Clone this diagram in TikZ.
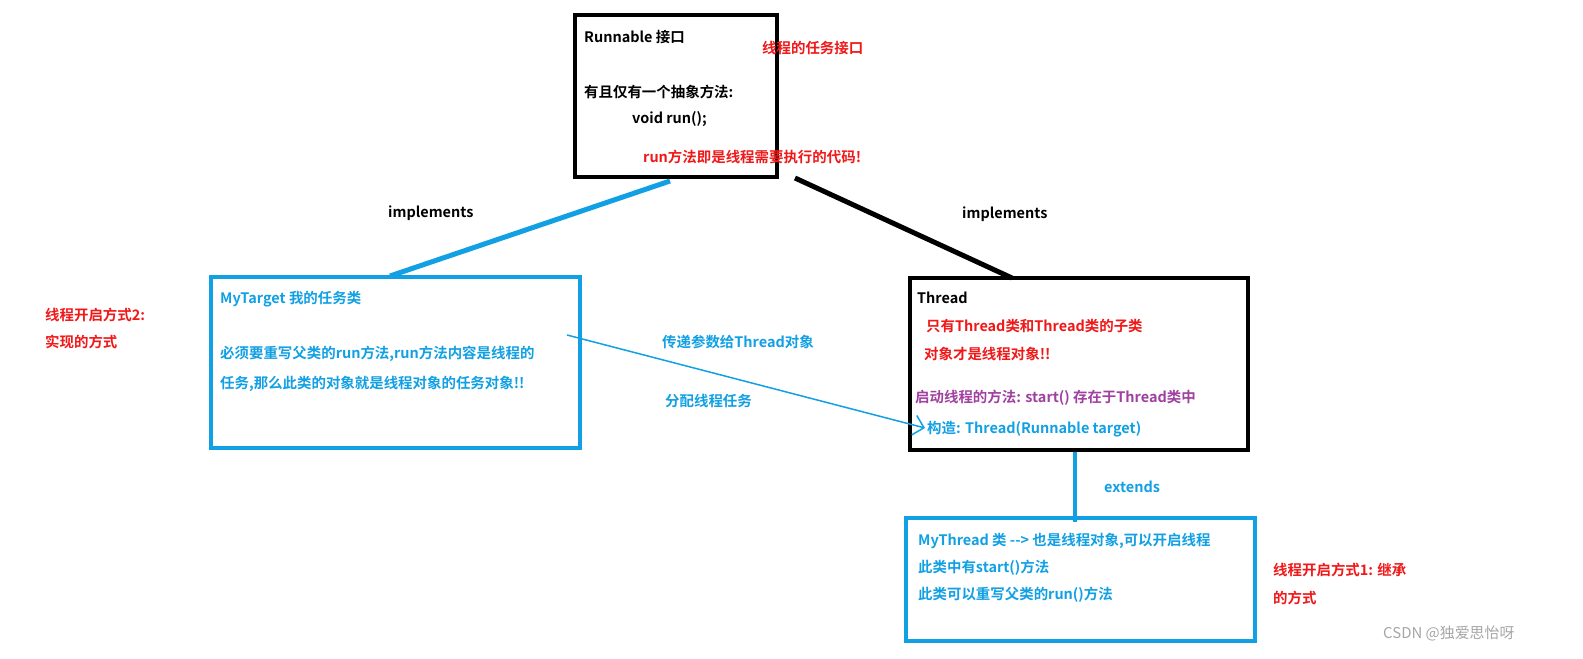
\documentclass[tikz,border=0pt]{standalone}
\usepackage{fontspec}
\setmainfont{Noto Sans CJK SC}[BoldFont={Noto Sans CJK SC Bold}]
\usetikzlibrary{arrows.meta}
\definecolor{cb}{HTML}{12A0E4}
\definecolor{cr}{HTML}{F01818}
\definecolor{cp}{HTML}{A040A0}
\begin{document}
\begin{tikzpicture}[x=1bp,y=-1bp,
  box/.style={line width=4bp},
  t/.style={anchor=west,inner sep=0pt,font=\fontsize{14.5}{17}\selectfont\bfseries}]
\useasboundingbox (0,0) rectangle (1583,659);
\fill[white] (0,0) rectangle (1583,659);
\draw[box] (575,15) rectangle (777,177);
\draw[box,cb] (211,277) rectangle (580,448);
\draw[box] (910,278) rectangle (1248,450);
\draw[box,cb] (906,518) rectangle (1255,641);
\coordinate (r1) at (670,181); \coordinate (r2) at (795,178);
\coordinate (m1) at (390,276); \coordinate (th1) at (1012,278);
\coordinate (th2) at (1075,452); \coordinate (mt1) at (1075,522);
\coordinate (a1) at (567,335); \coordinate (a2) at (925,428);
\draw[cb,line width=5bp] (r1) -- (m1);
\draw[line width=5bp] (r2) -- (th1);
\draw[cb,line width=4bp] (th2) -- (mt1);
\draw[cb,line width=1.5bp,-{Straight Barb[length=10bp,width=20bp]}] (a1) -- (a2);
% Runnable
\node[t] (n1) at (584,37) {Runnable 接口};
\node[t,text=cr] (n2) at (762,48) {线程的任务接口};
\node[t] (n3) at (584,92) {有且仅有一个抽象方法:};
\node[t] (n4) at (632,119) {void run();};
\node[t,text=cr] (n5) at (643,157) {run方法即是线程需要执行的代码!};
\node[t] (l1) at (388,213) {implements};
\node[t] (l2) at (962,214) {implements};
% left
\node[t,text=cr] (s2a) at (45,315) {线程开启方式2:};
\node[t,text=cr] (s2b) at (45,342) {实现的方式};
\node[t,text=cb] (m1t) at (220,299) {MyTarget 我的任务类};
\node[t,text=cb] (m2t) at (220,354) {必须要重写父类的run方法,run方法内容是线程的};
\node[t,text=cb] (m3t) at (220,384) {任务,那么此类的对象就是线程对象的任务对象!!};
\node[t,text=cb] (p1) at (662,342) {传递参数给Thread对象};
\node[t,text=cb] (p2) at (665,401) {分配线程任务};
% Thread
\node[t] (tt) at (917,298) {Thread};
\node[t,text=cr] (tt1) at (926,326) {只有Thread类和Thread类的子类};
\node[t,text=cr] (tt2) at (924,354) {对象才是线程对象!!};
\node[t,text=cp] (tt3) at (915,398) {启动线程的方法: start() 存在于Thread类中};
\node[t,text=cb] (tt4) at (927,429) {构造: Thread(Runnable target)};
\node[t,text=cb] (ex) at (1104,487) {extends};
% MyThread
\node[t,text=cb] (mt1t) at (918,541) {MyThread 类 {-}{-}> 也是线程对象,可以开启线程};
\node[t,text=cb] (mt2t) at (918,568) {此类中有start()方法};
\node[t,text=cb] (mt3t) at (918,595) {此类可以重写父类的run()方法};
\node[t,text=cr] (s1a) at (1273,570) {线程开启方式1: 继承};
\node[t,text=cr] (s1b) at (1273,598) {的方式};
\node[anchor=west,inner sep=0pt,text=gray!70,font=\fontsize{15}{17}\selectfont] (wm) at (1383,634) {CSDN @独爱思怡呀};
\end{tikzpicture}
\end{document}
